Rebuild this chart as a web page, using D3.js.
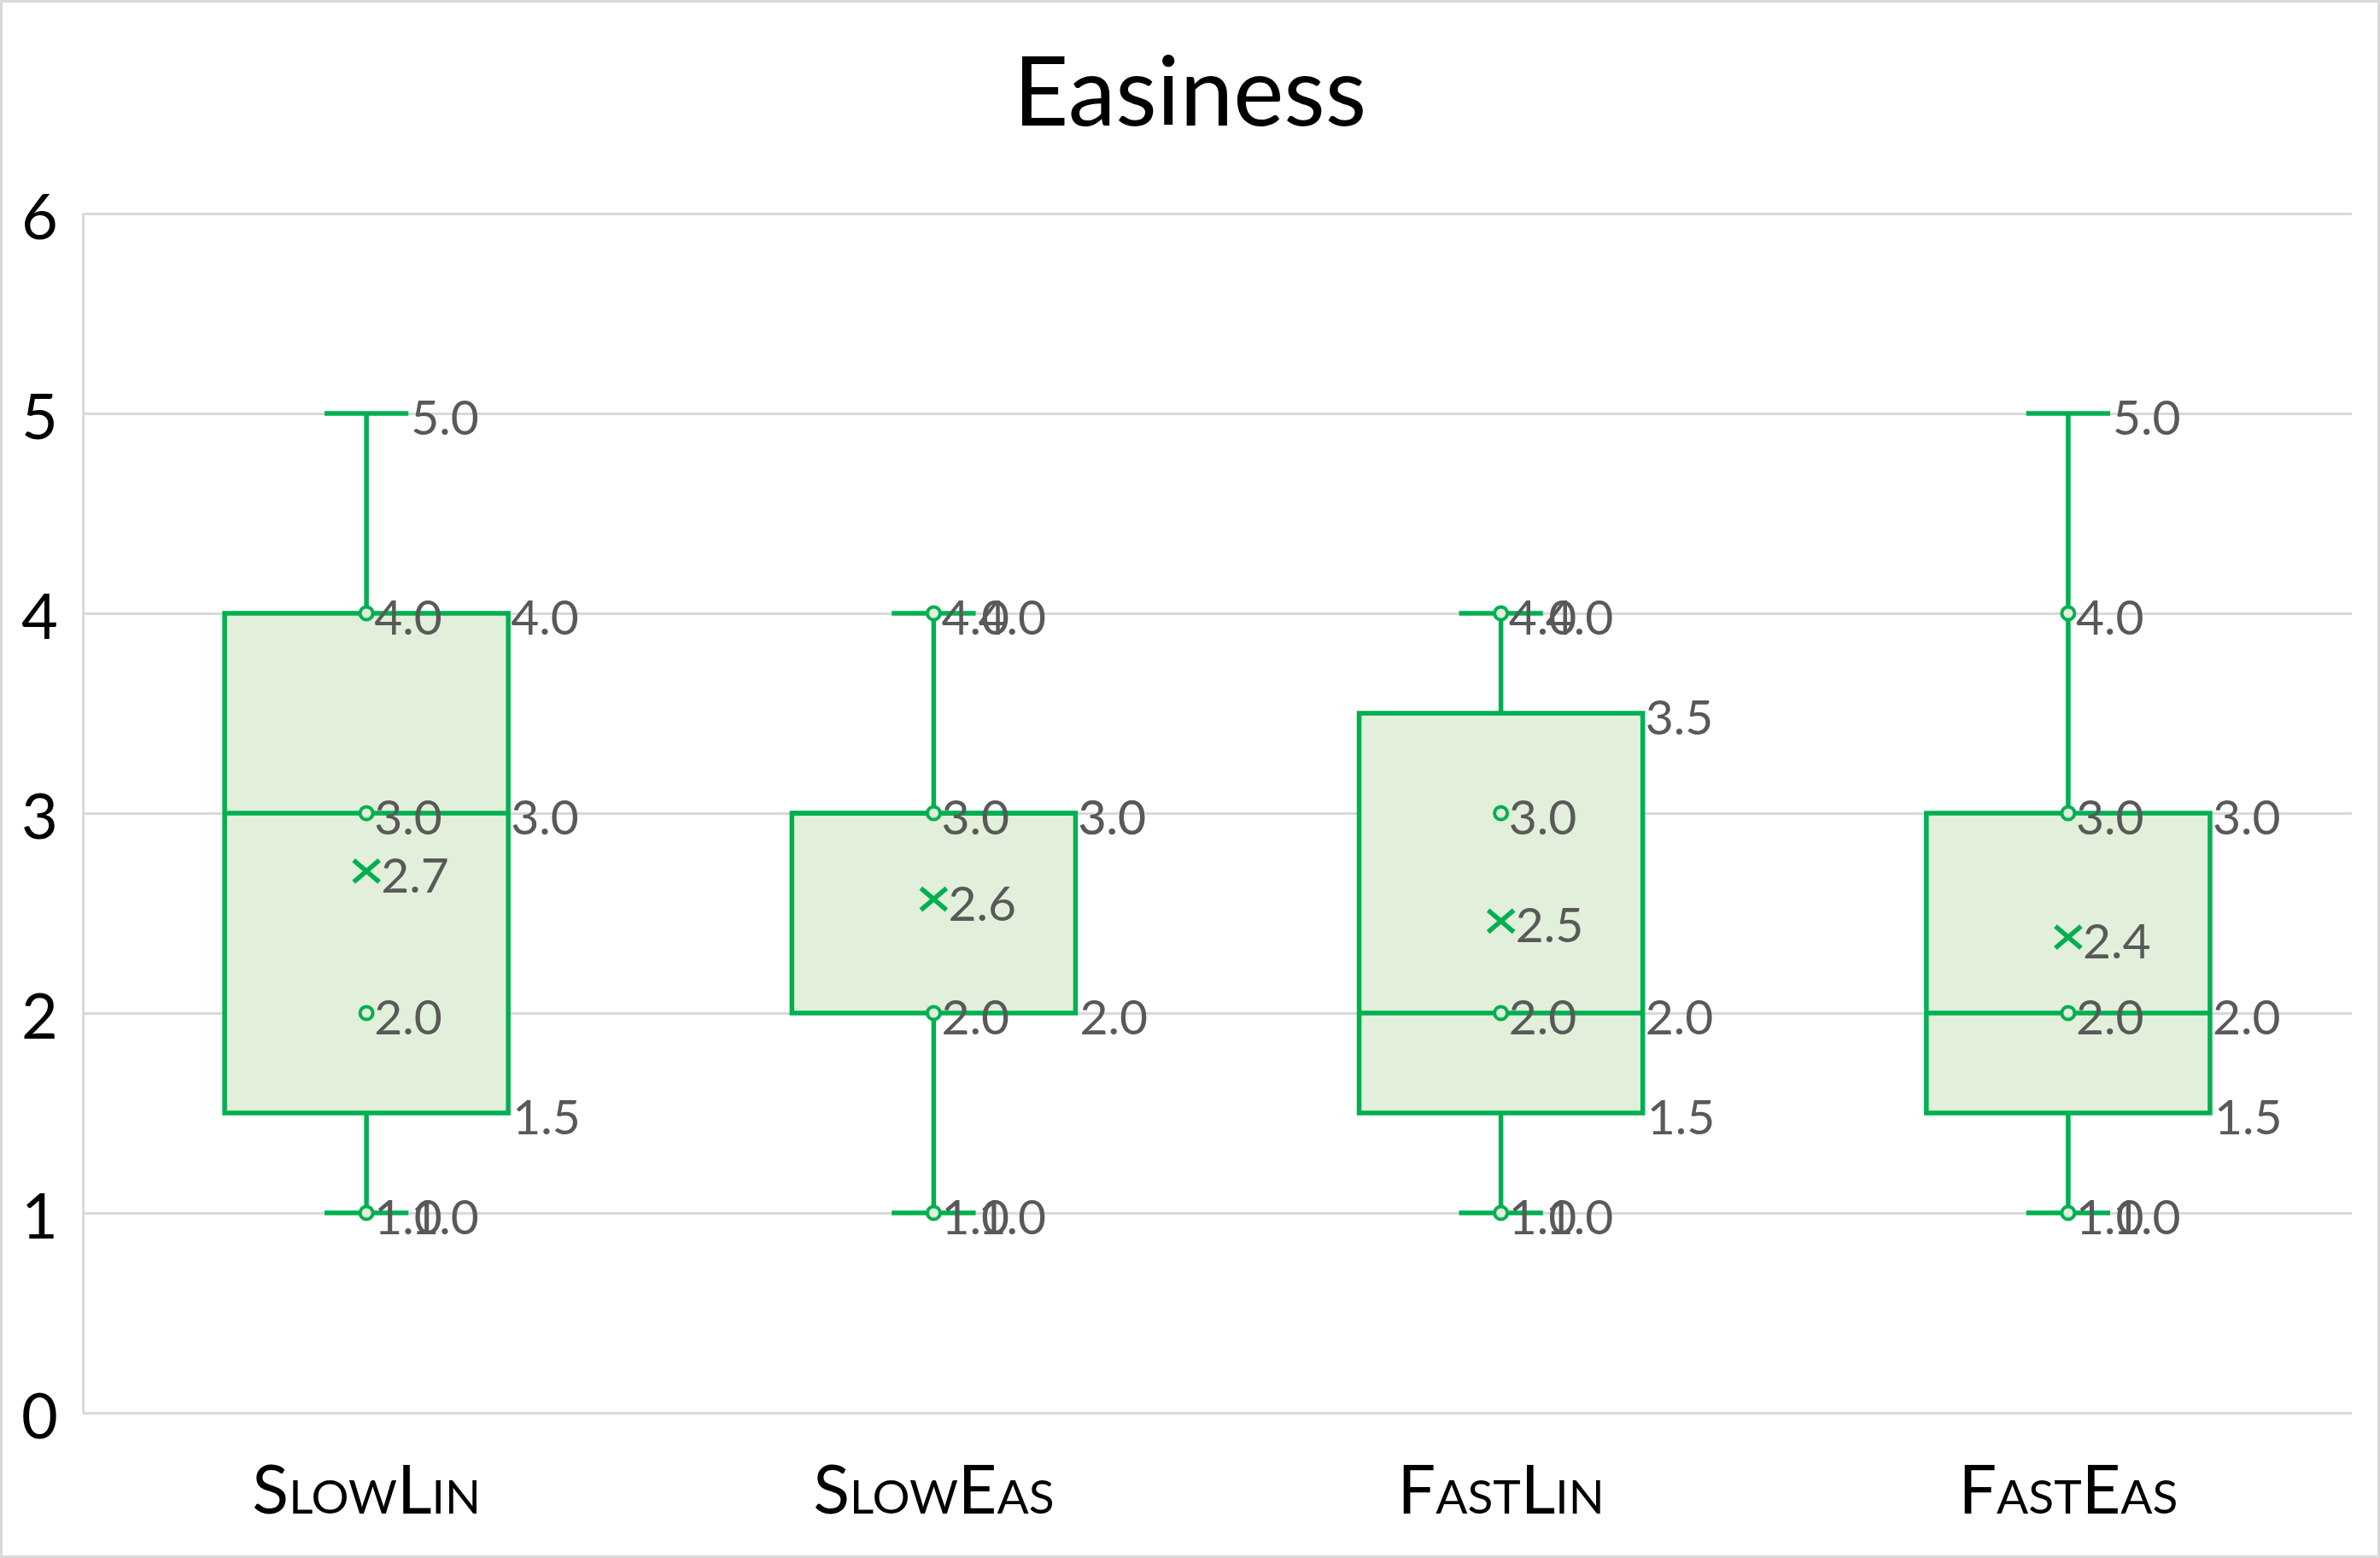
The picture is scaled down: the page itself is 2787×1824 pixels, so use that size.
<!DOCTYPE html>
<html>
<head>
<meta charset="utf-8">
<script src="https://cdn.jsdelivr.net/npm/d3@7"></script>
<style>
  body { margin: 0; background: #fff; }
  text { font-family: Lato, "Open Sans", sans-serif; }
</style>
</head>
<body>
<div id="chart"></div>
<script>
// values
const categories = ["SlowLin", "SlowEas", "FastLin", "FastEas"];
const minVals    = [1, 1, 1, 1];
const q1Vals     = [1.5, 2, 1.5, 1.5];
const medianVals = [3, 3, 2, 2];
const q3Vals     = [4, 3, 3.5, 3];
const maxVals    = [5, 4, 4, 5];
const meanVals   = [2.71, 2.57, 2.46, 2.38];
const innerPoints = [
    [4, 3, 2, 1],
    [4, 3, 2, 1],
    [4, 3, 2, 1],
    [4, 3, 2, 1]
];
const yTicks = [0, 1, 2, 3, 4, 5, 6];

const width = 2787, height = 1824;
const margin = { top: 250, right: 33, bottom: 170, left: 97 };
const green = "#00B050", boxFill = "#E2EFDA", labelGrey = "#595959", gridGrey = "#D9D9D9";
const lineW = 5.5;

const svg = d3.select("#chart").append("svg")
    .attr("width", width)
    .attr("height", height);

svg.append("rect")
    .attr("x", 1.5).attr("y", 1.5)
    .attr("width", width - 3).attr("height", height - 3)
    .attr("fill", "#fff")
    .attr("stroke", gridGrey)
    .attr("stroke-width", 3);

svg.append("text")
    .attr("x", width / 2)
    .attr("y", 147)
    .attr("text-anchor", "middle")
    .style("font-size", "112px")
    .attr("fill", "#000")
    .text("Easiness");

const x = d3.scaleBand()
    .domain(categories)
    .range([margin.left, width - margin.right]);

const y = d3.scaleLinear()
    .domain([0, 6])
    .range([height - margin.bottom, margin.top]);

// y axis + gridlines
const yAxis = svg.append("g")
    .attr("transform", `translate(${margin.left},0)`)
    .call(d3.axisLeft(y).tickValues(yTicks).tickFormat(d3.format("d"))
        .tickSizeInner(-(width - margin.left - margin.right)).tickSizeOuter(0).tickPadding(29));
yAxis.select(".domain").attr("stroke", gridGrey).attr("stroke-width", 3);
yAxis.selectAll(".tick line").attr("stroke", gridGrey).attr("stroke-width", 3);
yAxis.selectAll(".tick text")
    .attr("dy", "0.4em")
    .attr("fill", "#000")
    .style("font-size", "74px");

// x axis labels
const xAxis = svg.append("g")
    .attr("transform", `translate(0,${height - margin.bottom})`)
    .call(d3.axisBottom(x).tickSize(0));
xAxis.select(".domain").remove();
xAxis.selectAll(".tick text")
    .attr("y", 118)
    .attr("dy", null)
    .attr("fill", "#000")
    .style("font-size", "79px")
    .style("font-variant", "small-caps");

const boxW = x.bandwidth() * 0.5;
const capW = x.bandwidth() * 0.148;
const fmt = d3.format(".1f");

const data = categories.map((c, i) => ({
    cat: c, min: minVals[i], q1: q1Vals[i], median: medianVals[i],
    q3: q3Vals[i], max: maxVals[i], mean: meanVals[i], points: innerPoints[i]
}));

const g = svg.selectAll(".box").data(data).enter().append("g").attr("class", "box");
const cx = d => x(d.cat) + x.bandwidth() / 2;

// whiskers
g.append("line")
    .attr("x1", cx).attr("x2", cx)
    .attr("y1", d => y(d.q3)).attr("y2", d => y(d.max))
    .attr("stroke", green).attr("stroke-width", lineW);
g.append("line")
    .attr("x1", cx).attr("x2", cx)
    .attr("y1", d => y(d.q1)).attr("y2", d => y(d.min))
    .attr("stroke", green).attr("stroke-width", lineW);
["max", "min"].forEach(k => {
    g.append("line")
        .attr("x1", d => cx(d) - capW / 2).attr("x2", d => cx(d) + capW / 2)
        .attr("y1", d => y(d[k])).attr("y2", d => y(d[k]))
        .attr("stroke", green).attr("stroke-width", lineW);
});

// box
g.append("rect")
    .attr("x", d => cx(d) - boxW / 2)
    .attr("y", d => y(d.q3))
    .attr("width", boxW)
    .attr("height", d => y(d.q1) - y(d.q3))
    .attr("fill", boxFill)
    .attr("stroke", green).attr("stroke-width", lineW);
g.append("line")
    .attr("x1", d => cx(d) - boxW / 2).attr("x2", d => cx(d) + boxW / 2)
    .attr("y1", d => y(d.median)).attr("y2", d => y(d.median))
    .attr("stroke", green).attr("stroke-width", lineW);

// inner points
g.selectAll(".pt").data(d => d.points.map(v => ({ d, v }))).enter().append("circle")
    .attr("class", "pt")
    .attr("cx", p => cx(p.d))
    .attr("cy", p => y(p.v))
    .attr("r", 7.5)
    .attr("fill", boxFill)
    .attr("stroke", green).attr("stroke-width", 4);

// mean marker
const mk = 15;
g.append("path")
    .attr("d", d => {
        const mx = cx(d), my = y(d.mean);
        return `M${mx - mk},${my - mk * 0.85}L${mx + mk},${my + mk * 0.85}M${mx - mk},${my + mk * 0.85}L${mx + mk},${my - mk * 0.85}`;
    })
    .attr("stroke", green).attr("stroke-width", 5.5).attr("fill", "none");

// data labels
function label(sel, xf, v) {
    sel.append("text")
        .attr("x", xf)
        .attr("y", d => y(v(d)) + 25)
        .attr("fill", labelGrey)
        .style("font-size", "57px")
        .text(d => fmt(v(d)));
}
g.each(function (d) {
    const gg = d3.select(this);
    d.points.forEach(v => label(gg, cx(d) + 9, () => v));
});
label(g, d => cx(d) + 17, d => d.mean);
label(g, d => cx(d) + capW / 2 + 3, d => d.max);
label(g, d => cx(d) + capW / 2 + 3, d => d.min);
label(g, d => cx(d) + boxW / 2 + 3, d => d.q3);
label(g, d => cx(d) + boxW / 2 + 3, d => d.median);
label(g, d => cx(d) + boxW / 2 + 5, d => d.q1);
</script>
</body>
</html>
